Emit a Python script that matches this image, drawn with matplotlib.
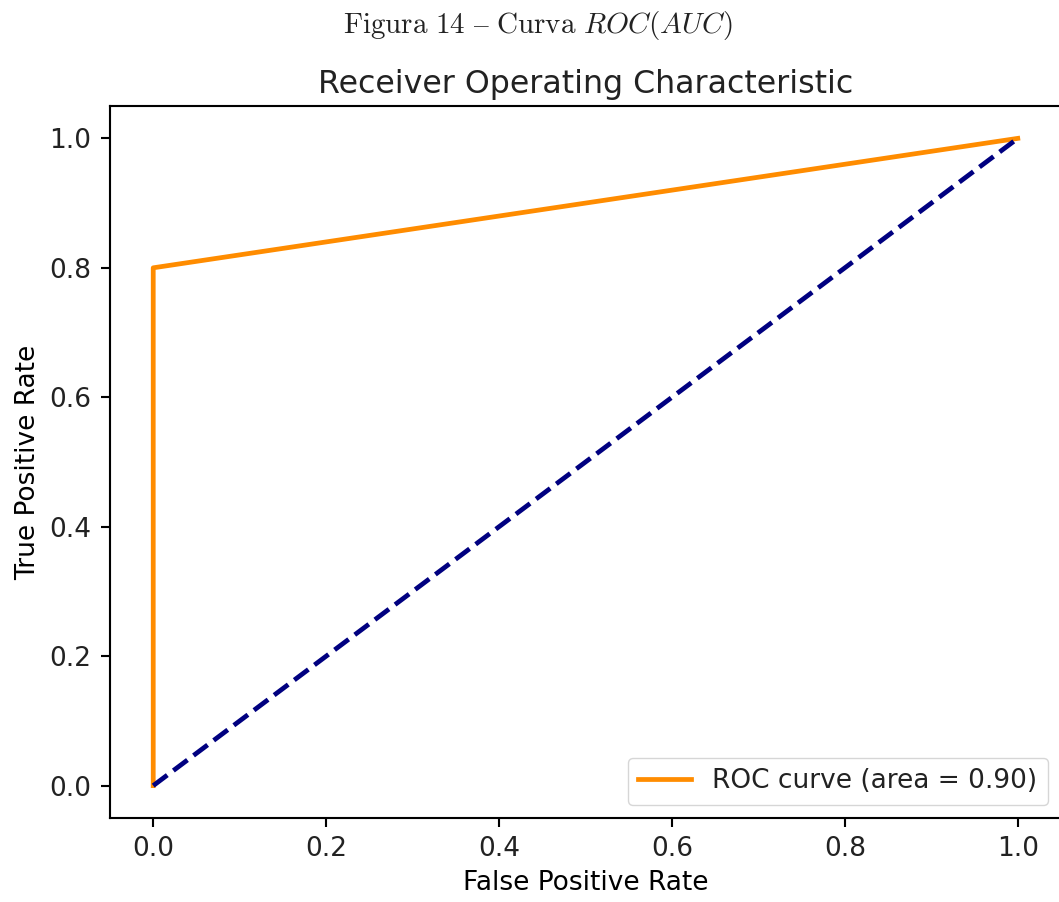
import numpy as np
import matplotlib
matplotlib.use("Agg")
import matplotlib.pyplot as plt

# ROC points
fpr = [0.0, 0.0, 1.0]
tpr = [0.0, 0.8, 1.0]
roc_auc = 0.90
chance = [0.0, 1.0]

plt.rcParams['mathtext.fontset'] = 'cm'
plt.rcParams['text.color'] = '#222222'
plt.rcParams['xtick.labelcolor'] = '#222222'
plt.rcParams['ytick.labelcolor'] = '#222222'
s = 1.9  # the picture is the default plot scaled up

fig = plt.figure(figsize=(10.59, 9.02), dpi=100)
ax = fig.add_axes([110 / 1059, 84 / 902, 951 / 1059, 712 / 902])

ax.plot(fpr, tpr, color='darkorange', lw=1.8 * s,
        label='ROC curve (area = %0.2f)' % roc_auc)
ax.plot(chance, chance, color='navy', lw=1.8 * s, linestyle='--')

ax.set_xlim(-0.05, 1.05)
ax.set_ylim(-0.05, 1.05)
ax.set_xticks(np.arange(0, 1.01, 0.2))
ax.set_yticks(np.arange(0, 1.01, 0.2))
ax.tick_params(labelsize=10 * s, length=3.5 * s, width=0.8 * s, pad=3.5 * s)
for sp in ax.spines.values():
    sp.set_linewidth(0.8 * s)

ax.set_xlabel('False Positive Rate', fontsize=10 * s, labelpad=3 * s)
ax.set_ylabel('True Positive Rate', fontsize=10 * s, labelpad=3 * s)
ax.set_title('Receiver Operating Characteristic', fontsize=12 * s, pad=5 * s)
ax.legend(loc='lower right', fontsize=10 * s)

fig.text(538 / 1059, 1 - 26 / 902, r'$\mathrm{Figura\ 14\ –\ Curva\ }\mathit{ROC(AUC)}$',
         ha='center', va='center', fontsize=21)

fig.savefig('out.png', dpi=100)
